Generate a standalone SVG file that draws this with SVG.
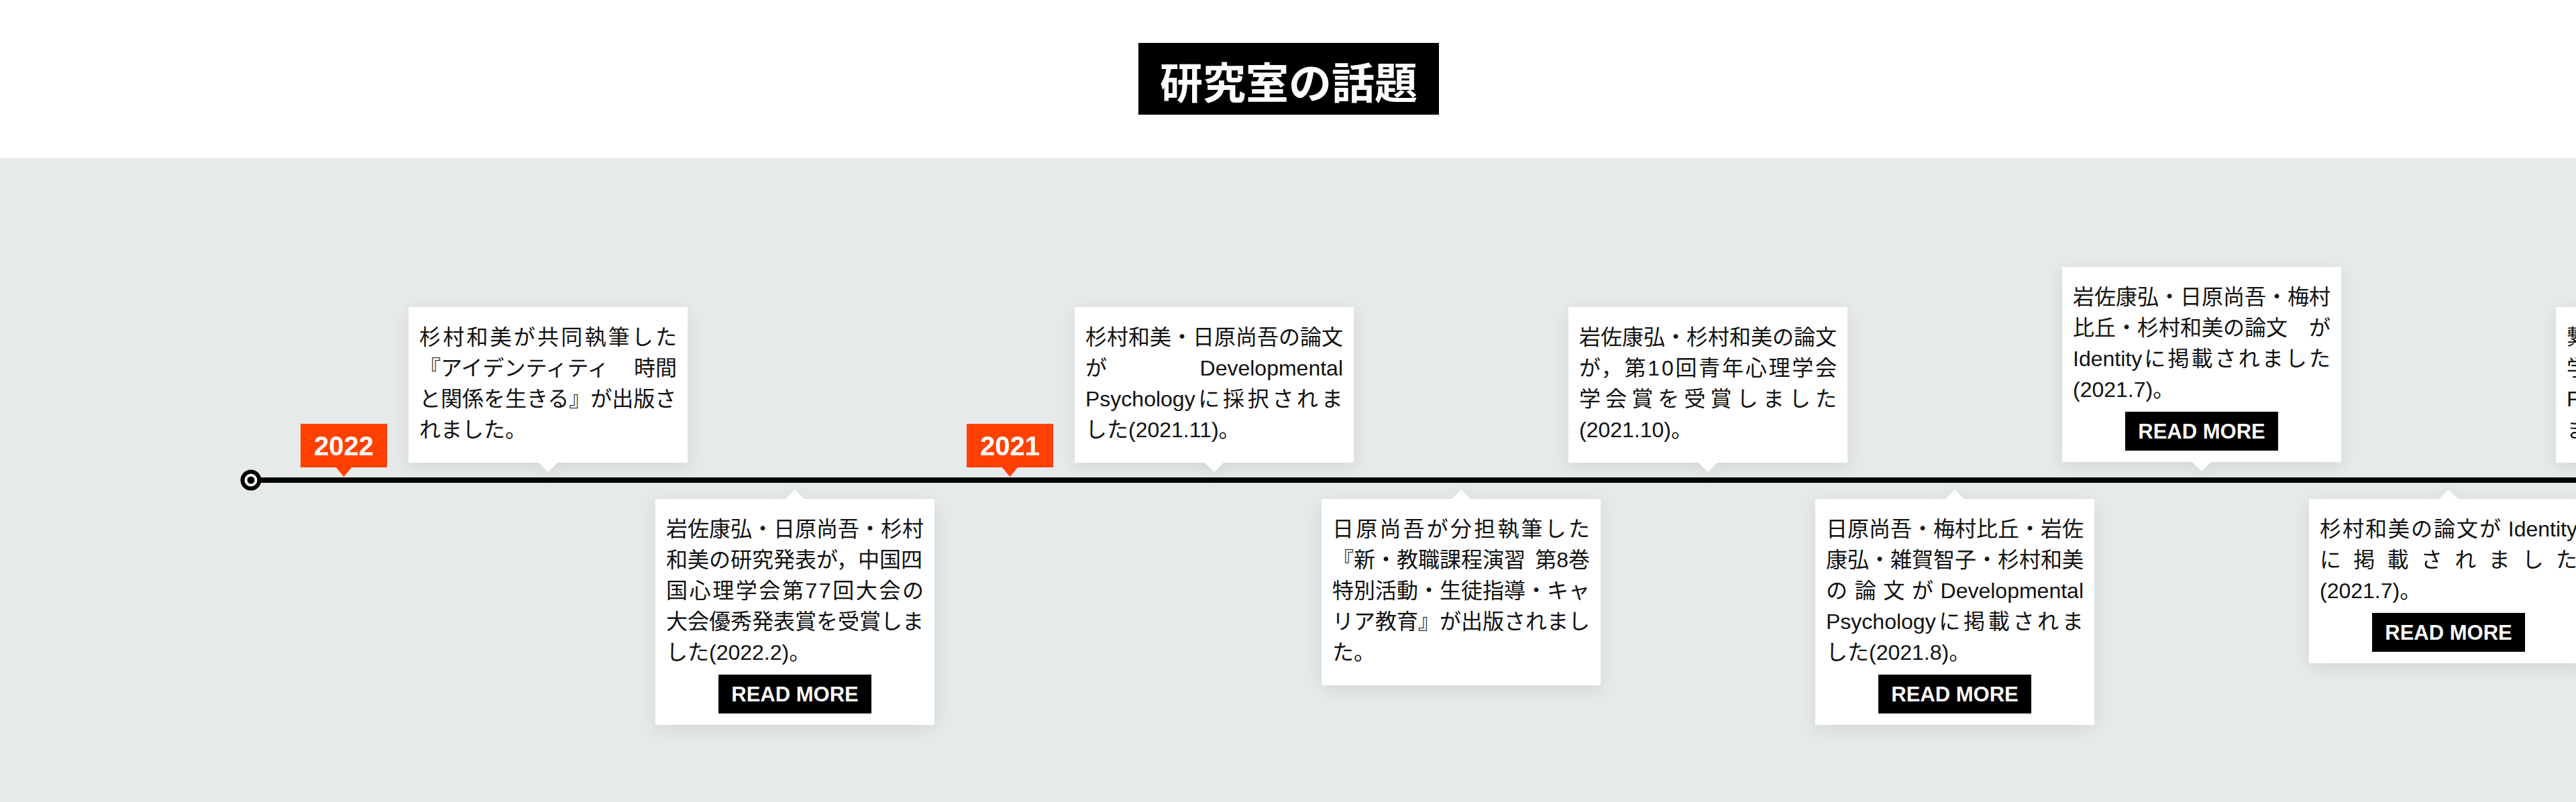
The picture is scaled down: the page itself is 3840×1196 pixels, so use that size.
<svg xmlns="http://www.w3.org/2000/svg" width="3840" height="1196" viewBox="0 0 3840 1196" xml:lang="ja">
<defs>
<filter id="sh" x="-20%" y="-20%" width="140%" height="150%">
<feDropShadow dx="0" dy="6" stdDeviation="12" flood-color="#000" flood-opacity="0.09"/>
</filter>
<style>
.card{fill:#fff;filter:url(#sh)}
.t{font-family:"Liberation Sans","Noto Sans CJK JP",sans-serif;font-size:32px;fill:#111}
.e{text-anchor:end}
.btn{fill:#000}
.bt{font-family:"Liberation Sans",Arial,sans-serif;font-weight:700;font-size:31px;fill:#fff;text-anchor:middle}
.tag{fill:#ff4000}
.tagt{font-family:"Liberation Sans",Arial,sans-serif;font-weight:700;font-size:40px;fill:#fff;text-anchor:middle}
</style>
</defs>
<rect x="0" y="0" width="3840" height="236" fill="#fff"/>
<rect x="0" y="236" width="3840" height="960" fill="#e6eaeb"/>

<g id="title">
<rect x="1697" y="64" width="448" height="107" fill="#000"/>
<text x="1921" y="147" font-family="'Noto Sans CJK JP',sans-serif" font-weight="700" font-size="64" fill="#fff" text-anchor="middle">研究室の話題</text>
</g>

<g id="connectors">
<line x1="374" y1="716" x2="3840" y2="716" stroke="#000" stroke-width="8"/>
<circle cx="374" cy="716" r="12.5" fill="#fff" stroke="#000" stroke-width="6"/>
<circle cx="374" cy="716" r="5.5" fill="#000"/>
</g>

<g id="tag-2022">
<rect class="tag" x="448" y="632" width="129" height="65"/>
<polygon class="tag" points="500,696 525,696 512.5,711"/>
<text class="tagt" x="512.5" y="679">2022</text>
</g>
<g id="tag-2021">
<rect class="tag" x="1441" y="632" width="129" height="65"/>
<polygon class="tag" points="1493,696 1518,696 1505.5,711"/>
<text class="tagt" x="1505.5" y="679">2021</text>
</g>

<g id="card1">
<path class="card" d="M609,458 H1025 V690 H831 L817,704 L803,690 H609 Z"/>
<text class="t" x="625" y="514" textLength="384" lengthAdjust="spacing">杉村和美が共同執筆した</text>
<text class="t" x="625" y="560">『アイデンティティ</text>
<text class="t e" x="1009" y="560">時間</text>
<text class="t" x="625" y="606">と関係を生きる』が出版さ</text>
<text class="t" x="625" y="652">れました。</text>
</g>

<g id="card2">
<path class="card" d="M977,744 H1171 L1185,730 L1199,744 H1393 V1081 H977 Z"/>
<text class="t" x="993" y="800">岩佐康弘・日原尚吾・杉村</text>
<text class="t" x="993" y="846">和美の研究発表が，中国四</text>
<text class="t" x="993" y="892" textLength="384" lengthAdjust="spacing">国心理学会第77回大会の</text>
<text class="t" x="993" y="938">大会優秀発表賞を受賞しま</text>
<text class="t" x="993" y="984">した(2022.2)。</text>
<rect class="btn" x="1071" y="1006" width="228" height="58"/>
<text class="bt" x="1185" y="1046">READ MORE</text>
</g>

<g id="card3">
<path class="card" d="M1602,458 H2018 V690 H1824 L1810,704 L1796,690 H1602 Z"/>
<text class="t" x="1618" y="514">杉村和美・日原尚吾の論文</text>
<text class="t" x="1618" y="560">が</text>
<text class="t e" x="2002" y="560">Developmental</text>
<text class="t" y="606"><tspan x="1618">Psychology</tspan><tspan x="1786.3 1823 1859.7 1896.4 1933.1 1969.8">に採択されま</tspan></text>
<text class="t" x="1618" y="652">した(2021.11)。</text>
</g>

<g id="card4">
<path class="card" d="M1970,744 H2164 L2178,730 L2192,744 H2386 V1022 H1970 Z"/>
<text class="t" x="1986" y="800" textLength="384" lengthAdjust="spacing">日原尚吾が分担執筆した</text>
<text class="t" x="1986" y="846">『新・教職課程演習</text>
<text class="t e" x="2370" y="846">第8巻</text>
<text class="t" x="1986" y="892">特別活動・生徒指導・キャ</text>
<text class="t" x="1986" y="938">リア教育』が出版されまし</text>
<text class="t" x="1986" y="984">た。</text>
</g>

<g id="card5">
<path class="card" d="M2338,458 H2754 V690 H2560 L2546,704 L2532,690 H2338 Z"/>
<text class="t" x="2354" y="514">岩佐康弘・杉村和美の論文</text>
<text class="t" x="2354" y="560" textLength="384" lengthAdjust="spacing">が，第10回青年心理学会</text>
<text class="t" x="2354" y="606" textLength="384" lengthAdjust="spacing">学会賞を受賞しました</text>
<text class="t" x="2354" y="652">(2021.10)。</text>
</g>

<g id="card6">
<path class="card" d="M2706,744 H2900 L2914,730 L2928,744 H3122 V1081 H2706 Z"/>
<text class="t" x="2722" y="800">日原尚吾・梅村比丘・岩佐</text>
<text class="t" x="2722" y="846">康弘・雑賀智子・杉村和美</text>
<text class="t" x="2722 2764.7 2807.3 2850" y="892">の論文が</text>
<text class="t e" x="3106" y="892">Developmental</text>
<text class="t" y="938"><tspan x="2722">Psychology</tspan><tspan x="2890.3 2927 2963.7 3000.4 3037.1 3073.8">に掲載されま</tspan></text>
<text class="t" x="2722" y="984">した(2021.8)。</text>
<rect class="btn" x="2800" y="1006" width="228" height="58"/>
<text class="bt" x="2914" y="1046">READ MORE</text>
</g>

<g id="card7">
<path class="card" d="M3074,398 H3490 V689 H3296 L3282,703 L3268,689 H3074 Z"/>
<text class="t" x="3090" y="454">岩佐康弘・日原尚吾・梅村</text>
<text class="t" x="3090" y="500">比丘・杉村和美の論文</text>
<text class="t e" x="3474" y="500">が</text>
<text class="t" y="546"><tspan x="3090">Identity</tspan><tspan x="3196.3 3231.4 3266.5 3301.6 3336.7 3371.8 3406.9 3442">に掲載されました</tspan></text>
<text class="t" x="3090" y="592">(2021.7)。</text>
<rect class="btn" x="3168" y="614" width="228" height="58"/>
<text class="bt" x="3282" y="654">READ MORE</text>
</g>

<g id="card8">
<path class="card" d="M3442,744 H3636 L3650,730 L3664,744 H3858 V989 H3442 Z"/>
<text class="t" x="3458 3492 3526 3560 3594 3628 3662 3696" y="800">杉村和美の論文が</text>
<text class="t e" x="3842" y="800">Identity</text>
<text class="t" x="3458" y="846" textLength="384" lengthAdjust="spacing">に掲載されました</text>
<text class="t" x="3458" y="892">(2021.7)。</text>
<rect class="btn" x="3536" y="914" width="228" height="58"/>
<text class="bt" x="3650" y="954">READ MORE</text>
</g>

<g id="card9">
<path class="card" d="M3810,458 H4226 V690 H3810 Z"/>
<text class="t" x="3826" y="514">繋</text>
<text class="t" x="3826" y="560">学</text>
<text class="t" x="3826" y="606">F</text>
<text class="t" x="3826" y="652">ま</text>
</g>
</svg>
